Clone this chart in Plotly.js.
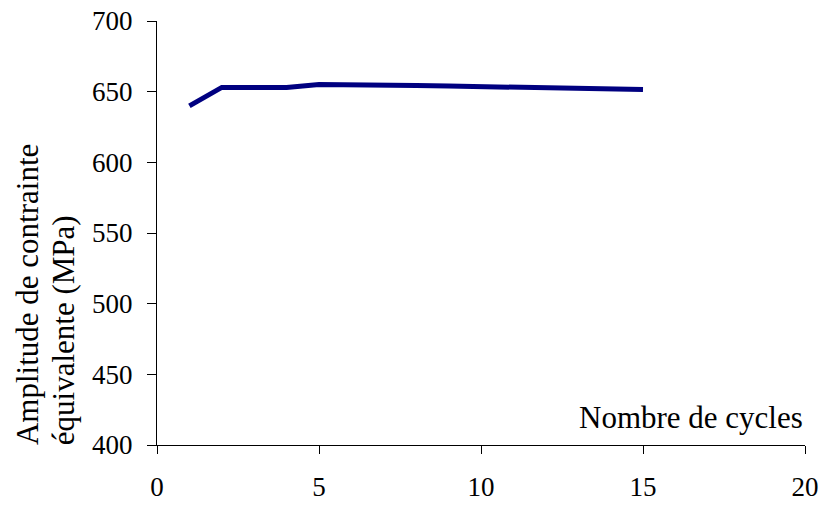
<!DOCTYPE html>
<html>
<head>
<meta charset="utf-8">
<script src="https://cdn.plot.ly/plotly-3.0.1.min.js"></script>
<style>html,body{margin:0;padding:0;background:#fff;}#chart{width:821px;height:505px;}</style>
</head>
<body>
<div id="chart"></div>
<script>
const cycles = [1, 2, 3, 4, 5, 6, 7, 8, 9, 10, 11, 12, 13, 14, 15];
const amplitude = [640, 653, 653, 653, 655, 655, 654.7, 654.3, 654, 653.5, 653.2, 652.8, 652.4, 651.5, 651.5];
const xTicks = [0, 5, 10, 15, 20];
const yTicks = [400, 450, 500, 550, 600, 650, 700];
const yTitleLines = ["Amplitude de contrainte", "équivalente (MPa)"];
const xTitle = "Nombre de cycles";

const fam = "Liberation Serif, Times New Roman, serif";
const tickFont = {family: fam, size: 27, color: "#000"};
const titleFont = {family: fam, size: 31, color: "#000"};

Plotly.newPlot("chart", [{
  x: cycles, y: amplitude, type: "scatter", mode: "lines",
  line: {color: "#000080", width: 5}, hoverinfo: "skip"
}], {
  width: 821, height: 505,
  margin: {l: 157, r: 16, t: 21, b: 60},
  paper_bgcolor: "#fff", plot_bgcolor: "#fff",
  font: tickFont,
  showlegend: false,
  xaxis: {
    range: [0, 20], tickvals: xTicks, ticktext: xTicks.map(String),
    showgrid: false, zeroline: false, showline: true, linecolor: "#000", linewidth: 1,
    ticks: "outside", ticklen: 8, tickcolor: "#000", tickfont: tickFont,
    ticklabelstandoff: 10, ticklabeloverflow: "allow"
  },
  yaxis: {
    range: [400, 700], tickvals: yTicks, ticktext: yTicks.map(String),
    showgrid: false, zeroline: false, showline: true, linecolor: "#000", linewidth: 1,
    ticks: "outside", ticklen: 9, tickcolor: "#000", tickfont: tickFont,
    ticklabelstandoff: 9
  },
  annotations: [
    {text: xTitle, xref: "paper", yref: "paper", x: 1, y: 0.02, xanchor: "right", yanchor: "bottom", showarrow: false, font: titleFont},
    {text: yTitleLines[0], xref: "paper", yref: "paper", x: -0.2, y: -0.005, xanchor: "center", yanchor: "bottom", textangle: -90, showarrow: false, font: titleFont},
    {text: yTitleLines[1], xref: "paper", yref: "paper", x: -0.145, y: -0.005, xanchor: "center", yanchor: "bottom", textangle: -90, showarrow: false, font: titleFont}
  ]
}, {staticPlot: true});
</script>
</body>
</html>
